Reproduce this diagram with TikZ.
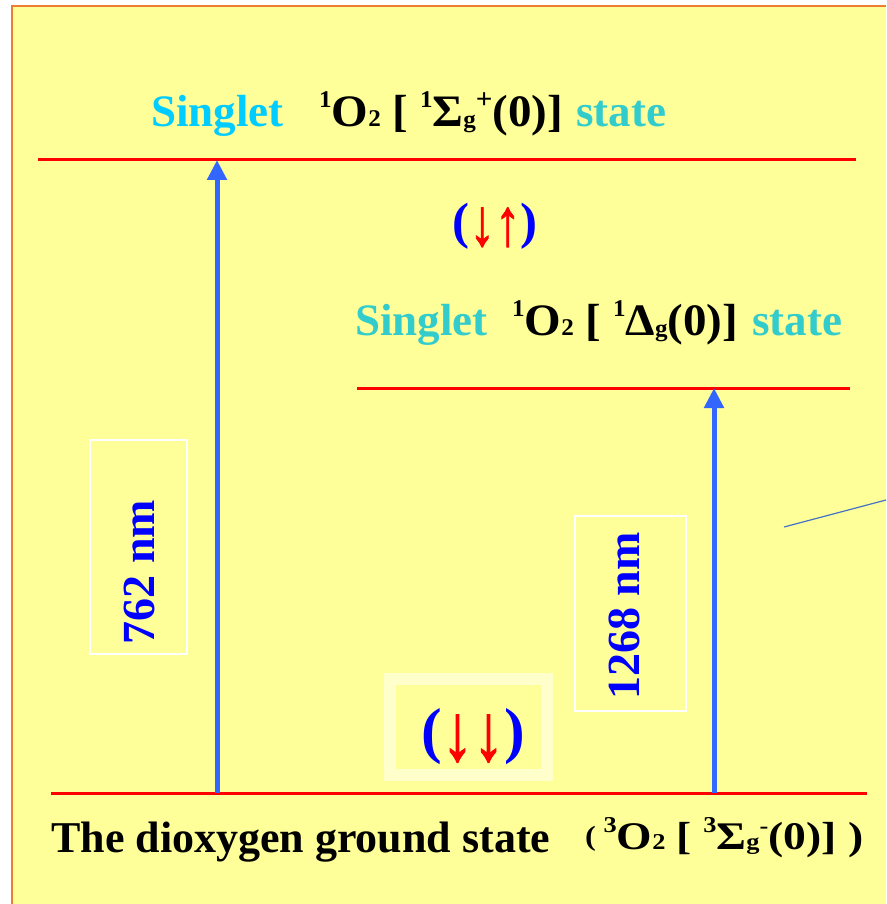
\documentclass[tikz,border=0pt]{standalone}
\usepackage{fontspec}
\setmainfont{Liberation Serif}
\newfontface\arrowfont{Liberation Serif Bold}[FakeBold=1.6]
\usetikzlibrary{arrows.meta}
\definecolor{bgyellow}{HTML}{FFFF99}
\definecolor{frameorange}{HTML}{ED7D31}
\definecolor{levelred}{HTML}{FF0000}
\definecolor{arrowblue}{HTML}{3366FF}
\definecolor{skyblue}{HTML}{00CCFF}
\definecolor{tealtxt}{HTML}{33CCCC}
\definecolor{paleyellow}{HTML}{FFFFCC}
\definecolor{linkblue}{HTML}{4472C4}
\newcommand\fsz[1]{\fontsize{#1}{#1}\selectfont}
\newcommand\hisup[3]{\raisebox{#1pt}{\fsz{#2}#3}}
\newcommand\spinarr[2]{\raisebox{#1pt}{\scalebox{1}[1.3]{\arrowfont\textcolor{levelred}{#2}}}}
\tikzset{
  level/.style={draw=levelred, line width=3pt},
  trans/.style={draw=arrowblue, line width=5pt, -{Triangle[width=19pt,length=20pt]}},
  lbl/.style={inner sep=0pt, font=\bfseries},
  wlbox/.style={draw=white, line width=2pt, inner sep=0pt},
}
\begin{document}
\begin{tikzpicture}[x=1pt,y=-1pt]
\useasboundingbox (0,0) rectangle (886,904);
\fill[white] (0,0) rectangle (886,904);
\fill[bgyellow] (12,6) rectangle (886,904);
\draw[frameorange, line width=2.5pt] (12,904) -- (12,6) -- (886,6);

% levels
\coordinate (topL) at (38,160);   \coordinate (topR) at (856,160);
\coordinate (midL) at (357,388);  \coordinate (midR) at (850,388);
\coordinate (botL) at (51,793);   \coordinate (botR) at (867,793);
\draw[level] (topL) -- (topR);
\draw[level] (midL) -- (midR);
\draw[level] (botL) -- (botR);

% boxes
\node[wlbox, minimum width=97pt, minimum height=214pt] (box762) at (138.5,547) {};
\node[wlbox, minimum width=111pt, minimum height=195pt] (box1268) at (630.5,613.5) {};
\node[draw=paleyellow, line width=12pt, minimum width=157pt, minimum height=96pt, inner sep=0pt] (pairbox) at (468.5,727) {};

% transitions
\coordinate (a1s) at (217,793); \coordinate (a1e) at (217,160);
\coordinate (a2s) at (714,793); \coordinate (a2e) at (714,388);
\draw[trans] (a1s) -- (a1e);
\draw[trans] (a2s) -- (a2e);

% wavelength labels
\node[lbl, rotate=90, text=blue] (w762) at (139,572) {\fsz{46}762 nm};
\node[lbl, rotate=90, text=blue] (w1268) at (624,616) {\fsz{46}1268 nm};

% top state
\node[lbl, anchor=base west, text=skyblue] (t1a) at (151,127) {\fsz{45}Singlet};
\node[lbl, anchor=base west] (t1b) at (319,127) {\scalebox{1.045}[1]{\fsz{45}\hisup{19}{24}{1}O\hisup{0}{24}{2} [ \hisup{19}{24}{1}Σ\hisup{-1}{24}{g}\hisup{18}{28}{+}(0)]}};
\node[lbl, anchor=base west, text=tealtxt] (t1c) at (576,127) {\fsz{45}state};

% middle state
\node[lbl, anchor=base west, text=tealtxt] (t2a) at (355,335) {\fsz{45}Singlet};
\node[lbl, anchor=base west] (t2b) at (512,335) {\scalebox{1.045}[1]{\fsz{45}\hisup{19}{24}{1}O\hisup{0}{24}{2} [ \hisup{19}{24}{1}Δ\hisup{-1}{24}{g}(0)]}};
\node[lbl, anchor=base west, text=tealtxt] (t2c) at (752,335) {\fsz{45}state};

% spin pairs
\node[lbl, anchor=base, text=blue] (spin1) at (495,238) {\fsz{51}(\spinarr{-7}{↓}\spinarr{-7}{↑})};
\node[lbl, anchor=base, text=blue] (spin2) at (473,751) {\fsz{62}(\spinarr{-9}{↓}\spinarr{-9}{↓})};

% ground state
\node[lbl, anchor=base west] (gs) at (51,852) {\fsz{44}The dioxygen ground state};
\node[lbl, anchor=base west] (gsf) at (585,849) {\scalebox{1.2}[1.03]{\fsz{38}\hisup{3}{27}{(}\,\hisup{16}{22}{3}O\hisup{0}{22}{2} [ \hisup{16}{22}{3}Σ\hisup{0}{22}{g}\hisup{15}{22}{-}(0)] )}};

% pointer line
\coordinate (pl1) at (784,527); \coordinate (pl2) at (886,500);
\draw[linkblue, line width=1.2pt] (pl1) -- (pl2);
\end{tikzpicture}
\end{document}
